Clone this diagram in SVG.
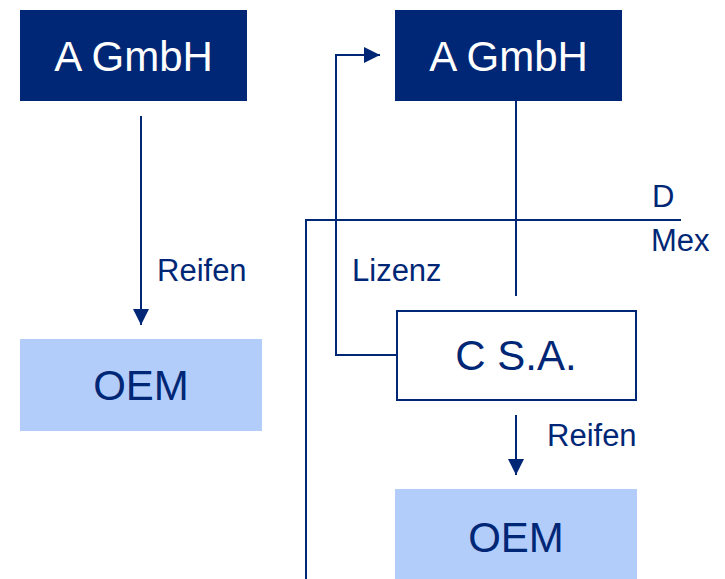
<svg xmlns="http://www.w3.org/2000/svg" width="725" height="579" viewBox="0 0 725 579">
<defs>
<style>
.dark{fill:#002776}
.light{fill:#B3CDFB}
.wt{fill:#ffffff;font-family:"Liberation Sans",Arial,sans-serif;font-size:42px;text-anchor:middle}
.bt{fill:#002776;font-family:"Liberation Sans",Arial,sans-serif;font-size:42px;text-anchor:middle}
.lbl{fill:#002776;font-family:"Liberation Sans",Arial,sans-serif;font-size:31px}
.ln{stroke:#002776;stroke-width:2;fill:none}
</style>
<marker id="arr" viewBox="0 0 10 10" refX="10" refY="5" markerWidth="8" markerHeight="8" markerUnits="userSpaceOnUse" orient="auto">
<path d="M0,0 L10,5 L0,10 Z" fill="#002776"/>
</marker>
<marker id="arrBig" viewBox="0 0 10 10" refX="10" refY="5" markerWidth="16" markerHeight="16" markerUnits="userSpaceOnUse" orient="auto">
<path d="M0,0 L10,5 L0,10 Z" fill="#002776"/>
</marker>
</defs>
<g id="connectors">
<line class="ln" x1="141" y1="116" x2="141" y2="325" marker-end="url(#arrBig)"/>
<line class="ln" x1="516" y1="101" x2="516" y2="296"/>
<polyline class="ln" points="396,355 336,355 336,55 380,55" marker-end="url(#arrBig)"/>
<line class="ln" x1="516" y1="415" x2="516" y2="475" marker-end="url(#arrBig)"/>
<polyline class="ln" points="306,579 306,220 681,220"/>
</g>
<g id="nodeA1">
<rect class="dark" x="20" y="10" width="227" height="91"/>
<text class="wt" x="133.5" y="71">A GmbH</text>
</g>
<g id="nodeA2">
<rect class="dark" x="395" y="10" width="227" height="91"/>
<text class="wt" x="508.5" y="71">A GmbH</text>
</g>
<g id="nodeOEM1">
<rect class="light" x="20" y="339" width="242" height="92"/>
<text class="bt" x="141" y="400">OEM</text>
</g>
<g id="nodeC">
<rect x="397" y="311" width="239" height="89" fill="#ffffff" stroke="#002776" stroke-width="2"/>
<text class="bt" x="516" y="370">C S.A.</text>
</g>
<g id="nodeOEM2">
<rect class="light" x="395" y="489" width="242" height="95"/>
<text class="bt" x="516" y="552">OEM</text>
</g>
<g id="labels">
<text class="lbl" x="157" y="281">Reifen</text>
<text class="lbl" x="352" y="281">Lizenz</text>
<text class="lbl" x="547" y="446">Reifen</text>
<text class="lbl" x="652" y="207">D</text>
<text class="lbl" x="651" y="251">Mex</text>
</g>
</svg>
